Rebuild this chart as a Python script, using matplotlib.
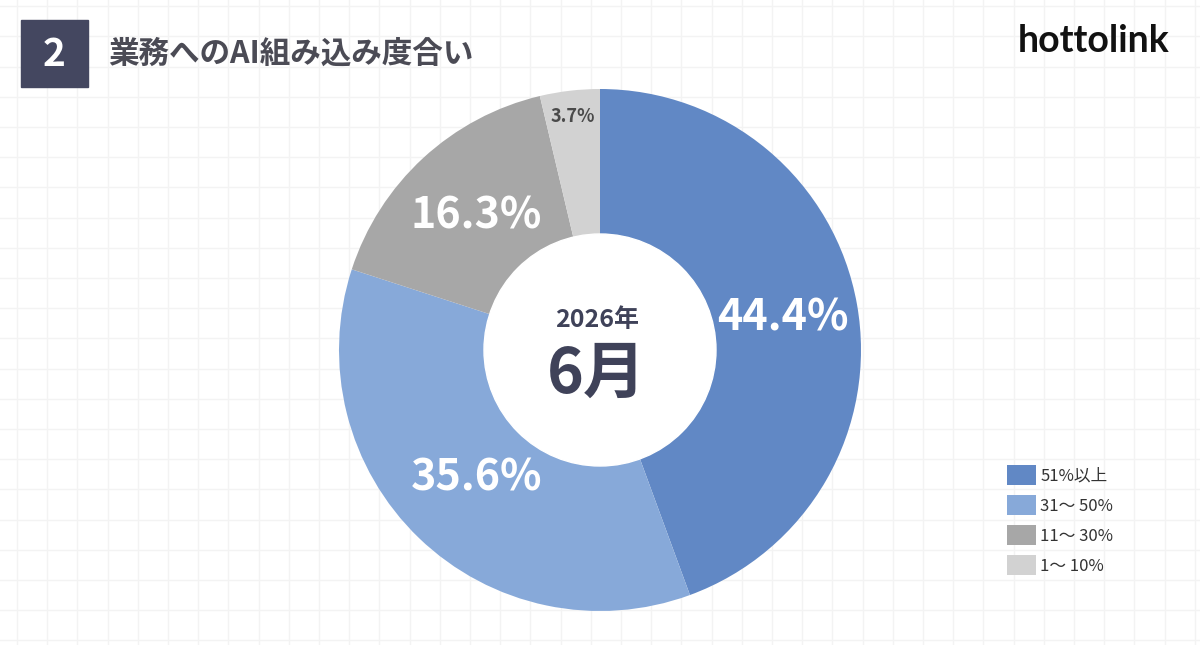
import numpy as np
import matplotlib.pyplot as plt
from matplotlib.patches import Rectangle, Circle

plt.rcParams['font.family'] = ['Noto Sans CJK JP', 'DejaVu Sans']

# データ
categories = ["51%以上", "31～ 50%", "11～ 30%", "1～ 10%"]
shares = [44.4, 35.6, 16.3, 3.7]
colors = ["#6188c5", "#87a9d9", "#a7a7a7", "#d2d2d2"]
label_colors = ["white", "white", "white", "#4a4a4a"]
label_sizes = [31, 31, 31, 13]
label_dist = [0.71, 0.68, 0.70, 0.90]

title_no = "2"
title = "業務へのAI組み込み度合い"
center_year = "2026年"
center_month = "6月"
logo = "hottolink"

W, H = 1200, 645
fig = plt.figure(figsize=(12, 6.45), dpi=100)
ax = fig.add_axes([0, 0, 1, 1])

# 方眼の背景
for gx in np.arange(17, W, 30.2):
    ax.axvline(gx, color="#f3f3f3", lw=1, zorder=0)
for gy in np.arange(127 - 30.2 * 4, H, 30.2):
    ax.axhline(H - gy, color="#f3f3f3", lw=1, zorder=0)

# ドーナツ
cx, cy, R = 600, H - 350, 261
wedges, _ = ax.pie(shares, colors=colors, startangle=90, counterclock=False,
                   center=(cx, cy), radius=R, frame=True,
                   wedgeprops=dict(linewidth=0))
ax.set_xlim(0, W)
ax.set_ylim(0, H)
ax.set_aspect("equal")
ax.axis("off")
ax.add_patch(Circle((cx, cy), 116, color="white", zorder=3))

for w, s, c, fs, d in zip(wedges, shares, label_colors, label_sizes, label_dist):
    ang = np.deg2rad((w.theta1 + w.theta2) / 2)
    ax.text(cx + d * R * np.cos(ang), cy + d * R * np.sin(ang), f"{s}%",
            ha="center", va="center", color=c, fontsize=fs,
            fontweight="bold", zorder=4)

ax.text(cx - 3, H - 320, center_year, ha="center", va="center",
        fontsize=18, fontweight="bold", color="#3f4259", zorder=4)
ax.text(cx - 3, H - 374, center_month, ha="center", va="center",
        fontsize=45, fontweight="bold", color="#3f4259", zorder=4)

# タイトル
ax.add_patch(Rectangle((21, H - 87), 67, 67, color="#444760", zorder=2))
ax.text(54.5, H - 55, title_no, ha="center", va="center", color="white",
        fontsize=28, fontweight="bold", zorder=3)
ax.text(108, H - 54, title, ha="left", va="center", color="#4b4b55",
        fontsize=22, fontweight="bold", zorder=3)
ax.text(1170, H - 41, logo, ha="right", va="center", color="#111111",
        fontsize=27, fontweight="bold", family="Lato", zorder=3)

# 凡例
leg = ax.legend(wedges, categories, loc="upper left",
                bbox_to_anchor=(992 / W, 1 - 450 / H), frameon=False,
                handlelength=1.75, handleheight=1.45, handletextpad=0.25,
                labelspacing=0.62, fontsize=12)
for t in leg.get_texts():
    t.set_color("#333333")

plt.savefig("out.png", dpi=100)
